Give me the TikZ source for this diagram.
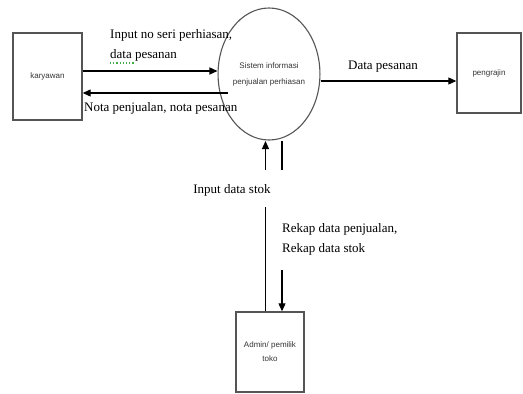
\documentclass[tikz,border=0pt]{standalone}
\usepackage{fontspec}
\setmainfont{Liberation Serif}
\newfontfamily\boxfont{Liberation Sans}
\usetikzlibrary{shapes.geometric,arrows.meta}
\definecolor{edgegray}{HTML}{555555}
\definecolor{squiggle}{HTML}{3CB043}
\begin{document}
\begin{tikzpicture}[x=1pt,y=-1pt,
  entity/.style={draw=edgegray,line width=1.4pt,rectangle,inner sep=0pt,
    font=\boxfont\fontsize{8}{14}\selectfont,align=center,text=black!80},
  proc/.style={draw=edgegray,line width=1.1pt,ellipse,inner sep=0pt,
    minimum width=84pt,minimum height=132pt,
    font=\boxfont\fontsize{8}{16}\selectfont,align=center,text=black!80},
  flow/.style={line width=1.1pt,-{Triangle[length=8pt,width=7pt]}},
  plain/.style={line width=1.1pt},
  lbl/.style={font=\fontsize{13}{20}\selectfont,inner sep=0pt,align=left}]
\useasboundingbox (0,0) rectangle (523,394);

% nodes
\node[entity,minimum width=69pt,minimum height=87pt] (kary) at (47.5,76.5) {karyawan};
\node[entity,minimum width=64pt,minimum height=80pt] (peng) at (489,73) {pengrajin};
\node[entity,minimum width=68pt,minimum height=80pt] (admin) at (270,352) {Admin/ pemilik\\toko};
\node[proc] (sys) at (269,74) {Sistem informasi\\penjualan perhiasan};

% connector end coordinates
\coordinate (k1) at (kary.east |- 0,71);
\coordinate (s1) at (sys.west |- 0,71);
\coordinate (k2) at (kary.east |- 0,93);
\coordinate (s2) at (228,93);
\coordinate (s3) at (sys.east |- 0,81);
\coordinate (p3) at (peng.west |- 0,81);
\coordinate (sL) at (265.5,141);
\coordinate (gL1) at (265.5,170);
\coordinate (gL2) at (265.5,207);
\coordinate (aL) at (admin.north -| 265.5,0);
\coordinate (sR) at (282,141);
\coordinate (gR1) at (282,170);
\coordinate (gR2) at (282,270);
\coordinate (aR) at (admin.north -| 282,0);

% connectors
\draw[flow] (k1) -- (s1);
\draw[flow] (s2) -- (k2);
\draw[flow] (s3) -- (p3);
\draw[plain] (aL) -- (gL2);
\draw[flow] (gL1) -- (sL);
\draw[plain] (sR) -- (gR1);
\draw[flow] (gR2) -- (aR);

% labels
\node[lbl,anchor=west] (l1) at (110,45) {Input no seri perhiasan,\\data pesanan};
\draw[squiggle,line width=1.2pt,dotted] (110,63) -- (134,63);
\node[lbl,anchor=west] (l2) at (84,108) {Nota penjualan, nota pesanan};
\node[lbl] (l3) at (383,67) {Data pesanan};
\node[lbl] (l4) at (232,190) {Input data stok};
\node[lbl,anchor=west] (l5) at (282,239) {Rekap data penjualan,\\Rekap data stok};
\end{tikzpicture}
\end{document}
